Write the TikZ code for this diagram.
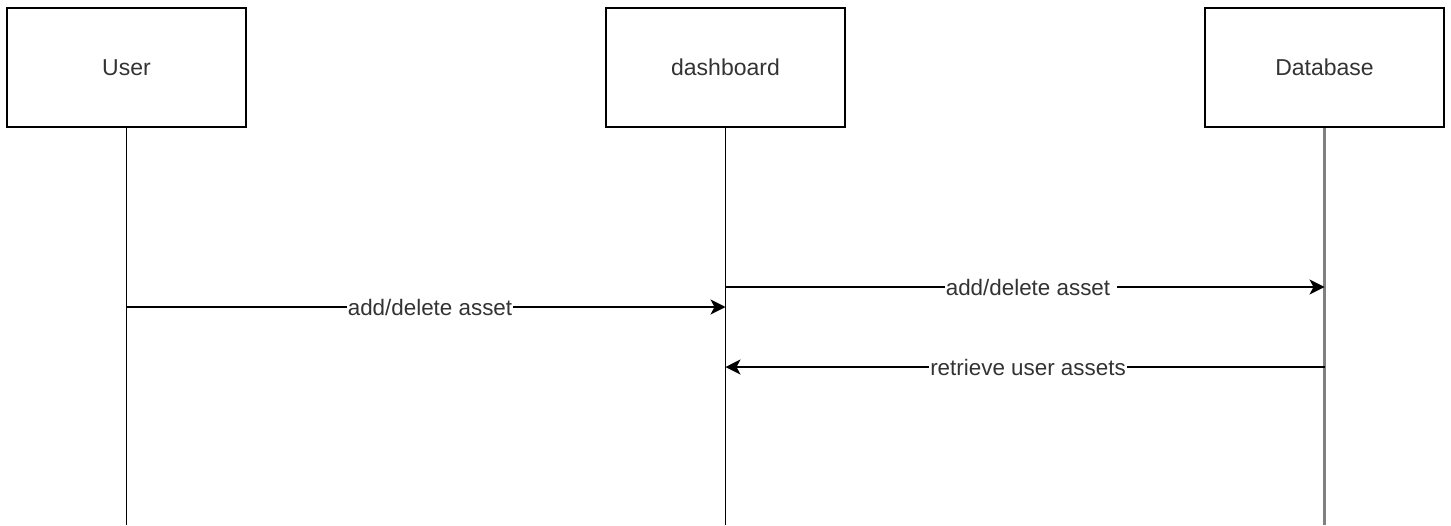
\documentclass[tikz,border=0pt]{standalone}
\usepackage{fontspec}
\setmainfont{Liberation Sans}
\usepackage{tikz}
\usetikzlibrary{arrows.meta}
\definecolor{txtgray}{HTML}{333333}
\definecolor{lifegray}{HTML}{808080}
\tikzset{actor/.style={draw,line width=0.75pt,minimum width=119.5pt,minimum height=59.5pt,text=txtgray,font=\fontsize{11.5}{13}\selectfont},
    lifeline/.style={line width=0.7pt},
    msg/.style={line width=0.7pt,-{Stealth[length=7.5pt,width=7.5pt,inset=2pt]}},
    msglabel/.style={fill=white,inner sep=0.6pt,text=txtgray,font=\fontsize{11.2}{13}\selectfont}}

\begin{document}
\begin{tikzpicture}[x=0.5pt,y=-0.5pt]
    \useasboundingbox (0,0) rectangle (1451,525);
    \node[actor] (user) at (126.5,67.5) {User};
    \node[actor] (dash) at (725.5,67.5) {dashboard};
    \node[actor] (db) at (1324.5,67.5) {Database};
    % lifelines
    \coordinate (userend) at (user.south |- 0,525);
    \coordinate (dashend) at (dash.south |- 0,525);
    \coordinate (dbend) at (db.south |- 0,525);
    \draw[lifeline] (user.south) -- (userend);
    \draw[lifeline] (dash.south) -- (dashend);
    \draw[lifeline,lifegray,line width=1.1pt] (db.south) -- (dbend);
    % messages
    \coordinate (u1) at (user.south |- 0,307);
    \coordinate (d1) at (dash.south |- 0,307);
    \coordinate (d2) at (dash.south |- 0,287);
    \coordinate (b2) at (db.south |- 0,287);
    \coordinate (b3) at (db.south |- 0,367);
    \coordinate (d3) at (dash.south |- 0,367);
    \draw[msg] (u1) -- node[msglabel,xshift=2pt] (m1) {add/delete asset} (d1);
    \draw[msg] (d2) -- node[msglabel,xshift=3pt] (m2) {add/delete asset\hspace*{3pt}} (b2);
    \draw[msg] (b3) -- node[msglabel,xshift=1.5pt] (m3) {retrieve user assets} (d3);
\end{tikzpicture}
\end{document}
